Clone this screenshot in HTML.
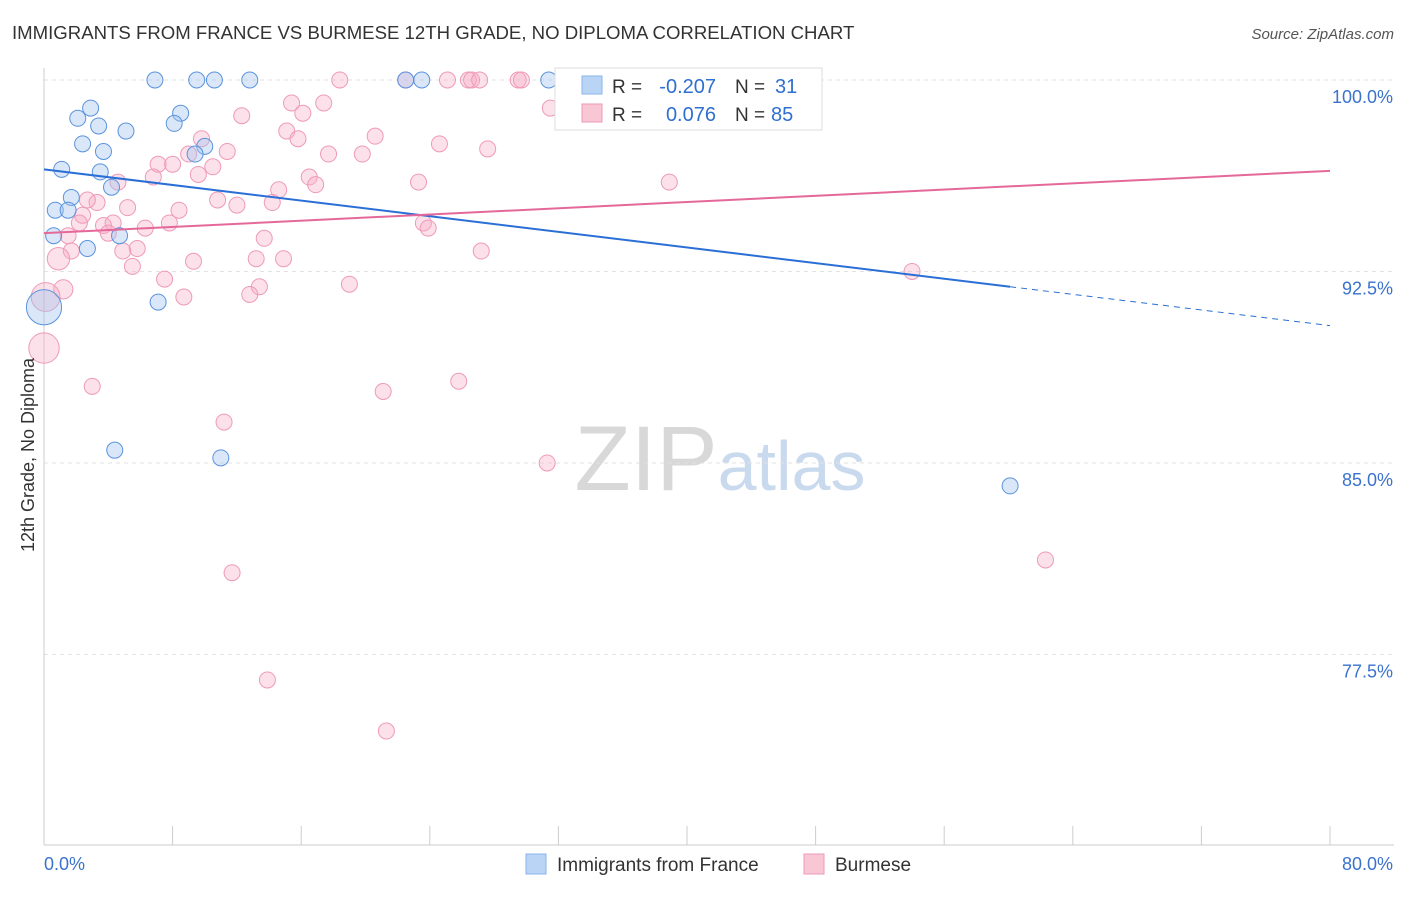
<!DOCTYPE html>
<html><head><meta charset="utf-8"><style>
body{margin:0;background:#fff;font-family:"Liberation Sans",sans-serif}
svg text{font-family:"Liberation Sans",sans-serif}
</style></head><body>
<svg id="chart" width="1406" height="892" xmlns="http://www.w3.org/2000/svg">
<text x="12" y="39" font-size="18.6" fill="#333">IMMIGRANTS FROM FRANCE VS BURMESE 12TH GRADE, NO DIPLOMA CORRELATION CHART</text>
<text x="1394" y="39" font-size="15" fill="#555" text-anchor="end" font-style="italic">Source: ZipAtlas.com</text>
<text x="720" y="490" font-size="92" text-anchor="middle" fill="#ddd" font-family="Liberation Serif"><tspan fill="#d8d8d8">ZIP</tspan><tspan fill="#c9d9ee" font-family="Liberation Sans" font-size="70">atlas</tspan></text>
<g id="grid"></g>
<g id="axes"></g>
<g id="pts"></g>
<g id="trend"></g>
<text transform="translate(34,455) rotate(-90)" font-size="18" fill="#333" text-anchor="middle">12th Grade, No Diploma</text>
<g>
<rect x="555" y="68" width="267" height="62" fill="#fff" stroke="#ddd"/>
<rect x="582" y="76" width="20" height="18" fill="#b9d4f5" stroke="#8ab4ea"/>
<rect x="582" y="104" width="20" height="18" fill="#f9c6d6" stroke="#ef9ab6"/>
<text x="612" y="93" font-size="19" fill="#333">R =</text>
<text x="716" y="93" font-size="20" fill="#2f6fd0" text-anchor="end">-0.207</text>
<text x="735" y="93" font-size="19" fill="#333">N =</text>
<text x="775" y="93" font-size="20" fill="#2f6fd0">31</text>
<text x="612" y="121" font-size="19" fill="#333">R =</text>
<text x="716" y="121" font-size="20" fill="#2f6fd0" text-anchor="end">0.076</text>
<text x="735" y="121" font-size="19" fill="#333">N =</text>
<text x="771" y="121" font-size="20" fill="#2f6fd0">85</text>
</g>
<g>
<rect x="526" y="854" width="20" height="20" fill="#b9d4f5" stroke="#8ab4ea"/>
<text x="557" y="871" font-size="19" fill="#333">Immigrants from France</text>
<rect x="804" y="854" width="20" height="20" fill="#f9c6d6" stroke="#ef9ab6"/>
<text x="835" y="871" font-size="19" fill="#333">Burmese</text>
</g>
</svg>
<script>
const yTicks=[100,92.5,85,77.5];
const yTickLabels=["100.0%","92.5%","85.0%","77.5%"];
const xTickLabels=["0.0%","80.0%"];
const franceX=[6.9,9.5,10.6,12.8,22.5,23.5,31.4,2.9,8.5,2.1,3.4,8.1,5.1,2.4,3.7,10.0,9.4,1.1,3.5,4.2,1.7,0.7,1.5,0.6,2.7,4.7,0,7.1,4.4,11.0,60.1];
const franceY=[100,100,100,100,100,100,100,98.9,98.7,98.5,98.2,98.3,98.0,97.5,97.2,97.4,97.1,96.5,96.4,95.8,95.4,94.9,94.9,93.9,93.4,93.9,91.1,91.3,85.5,85.2,84.1];
const franceSize=[1,1,1,1,1,1,1,1,1,1,1,1,1,1,1,1,1,1,1,1,1,1,1,1,1,1,2.2,1,1,1,1];
const burmeseX=[18.4,22.5,25.1,26.4,26.6,27.1,29.5,29.7,32.3,37.8,46.4,31.5,15.4,17.4,12.3,16.1,15.1,9.8,15.8,11.4,20.6,24.6,27.6,17.7,19.8,9.0,7.1,8.0,10.5,6.8,9.6,4.6,16.5,16.9,14.6,23.3,38.9,10.8,12.0,14.2,8.4,5.2,3.3,2.7,2.4,2.2,3.7,4.3,6.3,7.8,23.6,23.9,4.0,1.5,13.7,5.8,4.9,1.7,0.9,9.3,13.2,14.9,5.5,7.5,19.0,27.2,1.2,13.4,12.8,8.7,0.1,0,3.0,21.1,25.8,11.2,31.3,54.0,62.3,11.7,13.9,21.3];
const burmeseY=[100,100,100,100,100,100,100,100,100,100,98.7,98.9,99.1,99.1,98.6,98.7,98.0,97.7,97.7,97.2,97.8,97.5,97.3,97.1,97.1,97.1,96.7,96.7,96.6,96.2,96.3,96.0,96.2,95.9,95.7,96.0,96.0,95.3,95.1,95.2,94.9,95.0,95.2,95.3,94.7,94.4,94.3,94.4,94.2,94.4,94.4,94.2,94.0,93.9,93.8,93.4,93.3,93.3,93.0,92.9,93.0,93.0,92.7,92.2,92.0,93.3,91.8,91.9,91.6,91.5,91.5,89.5,88.0,87.8,88.2,86.6,85.0,92.5,81.2,80.7,76.5,74.5];
const burmeseSize=[1,1,1,1,1,1,1,1,1,1,1,1,1,1,1,1,1,1,1,1,1,1,1,1,1,1,1,1,1,1,1,1,1,1,1,1,1,1,1,1,1,1,1,1,1,1,1,1,1,1,1,1,1,1,1,1,1,1,1.4,1,1,1,1,1,1,1,1.2,1,1,1,1.8,1.9,1,1,1,1,1,1,1,1,1,1];
const franceTrend=[96.5,90.38];
const franceSolidEnd=60.1;
const burmeseTrend=[94.0,96.44];

const X=v=>44+v/80*1286;
const Y=v=>80+(100-v)*25.53;
const NS="http://www.w3.org/2000/svg";
function mk(tag,attrs,parent){const e=document.createElementNS(NS,tag);for(const k in attrs)e.setAttribute(k,attrs[k]);document.getElementById(parent).appendChild(e);return e;}

yTicks.forEach((t,i)=>{
 const l=mk('line',{x1:44,x2:1394,y1:Y(t),y2:Y(t),stroke:'#e2e2e2','stroke-dasharray':'4,4'},'grid');
 
 
 const tx=mk('text',{x:1393,y:Y(t)+23,'font-size':18,fill:'#3a72cc','text-anchor':'end'},'axes');
 tx.textContent=yTickLabels[i];
 
 
});
let ax=mk('line',{x1:44,x2:44,y1:68,y2:845,stroke:'#ccc'},'axes');


ax=mk('line',{x1:44,x2:1394,y1:845,y2:845,stroke:'#ccc'},'axes');


for(let i=0;i<=10;i++){
 const t=mk('line',{x1:X(i*8),x2:X(i*8),y1:826,y2:845,stroke:'#ccc'},'axes');
 
 
}
[[0,'start'],[80,'end']].forEach((p,i)=>{
 const tx=mk('text',{x:i?1393:44,y:870,'font-size':18,fill:'#3a72cc','text-anchor':p[1]},'axes');
 tx.textContent=xTickLabels[i];
 
 
});
burmeseX.forEach((v,i)=>{
 const c=mk('circle',{cx:X(v),cy:Y(burmeseY[i]),r:8*burmeseSize[i],fill:'rgba(245,170,195,0.35)',stroke:'#ee9ab8','stroke-width':1},'pts');
 
 
});
franceX.forEach((v,i)=>{
 const c=mk('circle',{cx:X(v),cy:Y(franceY[i]),r:8*franceSize[i],fill:'rgba(160,195,240,0.4)',stroke:'#5b93dd','stroke-width':1},'pts');
 
 
});
const fy=x=>franceTrend[0]+(franceTrend[1]-franceTrend[0])*x/80;
let l=mk('line',{x1:X(0),y1:Y(fy(0)),x2:X(franceSolidEnd),y2:Y(fy(franceSolidEnd)),stroke:'#2a6fd6','stroke-width':2},'trend');


l=mk('line',{x1:X(franceSolidEnd),y1:Y(fy(franceSolidEnd)),x2:X(80),y2:Y(fy(80)),stroke:'#2a6fd6','stroke-width':1,'stroke-dasharray':'6,5'},'trend');


l=mk('line',{x1:X(0),y1:Y(burmeseTrend[0]),x2:X(80),y2:Y(burmeseTrend[1]),stroke:'#e5689a','stroke-width':2},'trend');


</script>
</body></html>
